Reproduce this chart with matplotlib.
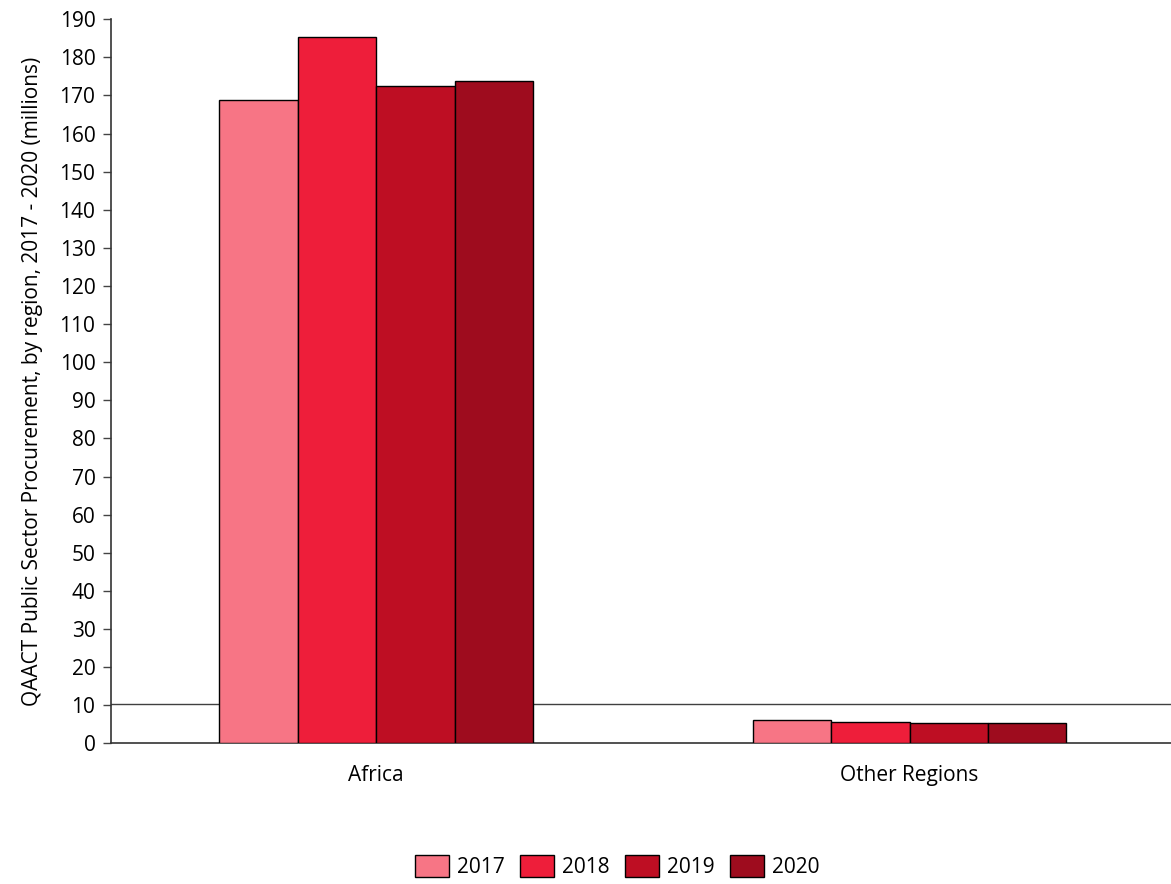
import matplotlib
matplotlib.use("Agg")
import matplotlib.pyplot as plt
import numpy as np

plt.rcParams['font.family'] = ['Open Sans', 'DejaVu Sans']

regions = ["Africa", "Other Regions"]
years = ["2017", "2018", "2019", "2020"]
values_2017 = [168.8, 6.2]
values_2018 = [185.4, 5.5]
values_2019 = [172.6, 5.3]
values_2020 = [173.9, 5.3]
reference_level = 10.2
yticks = list(range(0, 200, 10))

series = [values_2017, values_2018, values_2019, values_2020]
colors = ["#F77585", "#EE1E3A", "#BE0E23", "#9E0C1E"]

FS = 15

fig = plt.figure(figsize=(11.71, 8.84), dpi=100)
ax = fig.add_axes([0.0945, 0.1592, 0.9055, 0.8190])

x = np.arange(len(regions))
width = 0.147
offsets = (np.arange(len(years)) - 1.5) * width
for vals, off, col, yr in zip(series, offsets, colors, years):
    ax.bar(x + off, vals, width, color=col, edgecolor="black", linewidth=1.0,
           label=yr, zorder=3)

ax.axhline(reference_level, color="#404040", linewidth=1.0, zorder=1)

ax.set_xlim(-0.498, 1.49)
ax.set_ylim(0, 190)
ax.set_yticks(yticks)
ax.set_xticks(x)
ax.set_xticklabels(regions, fontsize=FS)
ax.tick_params(axis="x", length=0, pad=16)
ax.tick_params(axis="y", length=6, width=1, labelsize=FS, pad=5, color="#444444")

for side in ["top", "right"]:
    ax.spines[side].set_visible(False)
for side in ["left", "bottom"]:
    ax.spines[side].set_color("#333333")
    ax.spines[side].set_linewidth(1.2)

ax.set_ylabel("QAACT Public Sector Procurement, by region, 2017 - 2020 (millions)",
              fontsize=FS, labelpad=12)

fig.legend(loc="center", bbox_to_anchor=(0.527, 17.5 / 884), ncol=4, frameon=False,
           fontsize=FS, handlelength=1.63, handleheight=1.2, handletextpad=0.38,
           columnspacing=0.75)

fig.savefig("out.png", dpi=100)
